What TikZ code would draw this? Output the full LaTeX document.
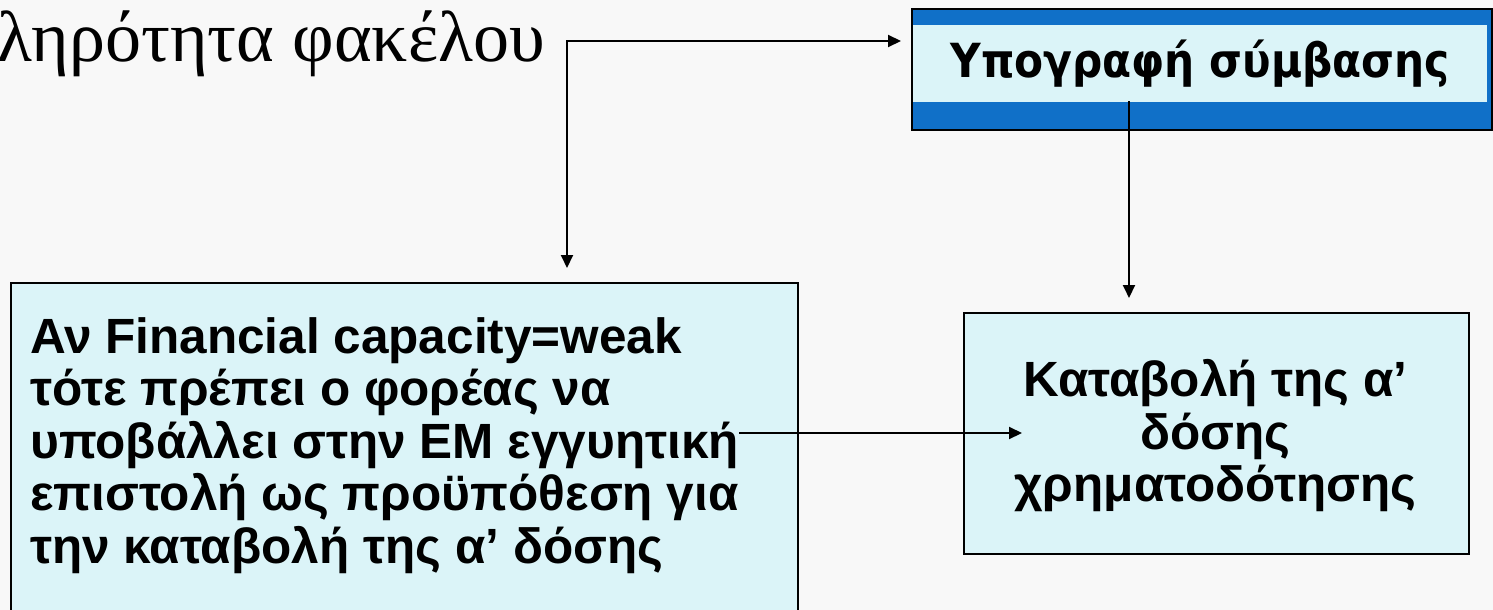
\documentclass[tikz,border=0pt]{standalone}
\usepackage{fontspec}
\setmainfont{Liberation Serif}
\newfontfamily\boxfont{Liberation Sans}
\newfontfamily\signfont{DejaVu Sans}[FakeStretch=0.9]
\usetikzlibrary{arrows.meta}
\definecolor{bgc}{RGB}{248,248,248}
\definecolor{lightc}{RGB}{219,244,248}
\definecolor{bluec}{RGB}{16,112,200}
\begin{document}
\begin{tikzpicture}[x=1pt,y=-1pt,
  conn/.style={line width=2pt,line cap=rect},
  arr/.style={conn,-{Triangle[length=13pt,width=12pt]}},
  box/.style={draw=black,line width=2pt,fill=lightc},
  boxtext/.style={font=\boxfont\bfseries\fontsize{49.5}{52.5}\selectfont}]
\useasboundingbox[fill=bgc] (0,0) rectangle (1493,610);
% title (cut at left)
\node (title) [anchor=base east,inner sep=0,font=\fontsize{72}{72}\selectfont] at (545,62) {ληρότητα φακέλου};
% top box
\fill[bluec] (912,9) rectangle (1492,130);
\node (sign) [fill=lightc,inner sep=0,minimum width=574pt,minimum height=77pt,anchor=north west,
  font=\signfont\bfseries\fontsize{47}{47}\selectfont] at (913,25) {Υπογραφή σύμβασης};
\draw[line width=2pt] (912,9) rectangle (1492,130);
% left box
\node (cond) [box,anchor=north west,minimum width=787pt,minimum height=340pt] at (10,282) {};
\node (condtext) [boxtext,anchor=north west,align=left,inner sep=0] at (30,317)
  {Αν Financial capacity=weak\\τότε πρέπει ο φορέας να\\υποβάλλει στην ΕΜ εγγυητική\\επιστολή ως προϋπόθεση για\\την καταβολή της α’ δόσης};
% right box
\node (pay) [box,anchor=north west,minimum width=505pt,minimum height=241pt] at (963,312) {};
\node (paytext) [boxtext,align=center,inner sep=0] at (1215.5,436)
  {Καταβολή της α’\\δόσης\\χρηματοδότησης};
% connectors
\coordinate (c) at (567,41);
\draw[arr,shorten >=12pt] (c) -- (c -| sign.west);
\draw[arr,shorten >=14pt] (c) -- (c |- cond.north);
\coordinate (sv) at (1129,102);
\draw[arr,shorten >=14pt] (sv) -- (sv |- pay.north);
\coordinate (hs) at (740,433);
\coordinate (he) at (1022,433);
\draw[arr] (hs) -- (he);
\end{tikzpicture}
\end{document}
